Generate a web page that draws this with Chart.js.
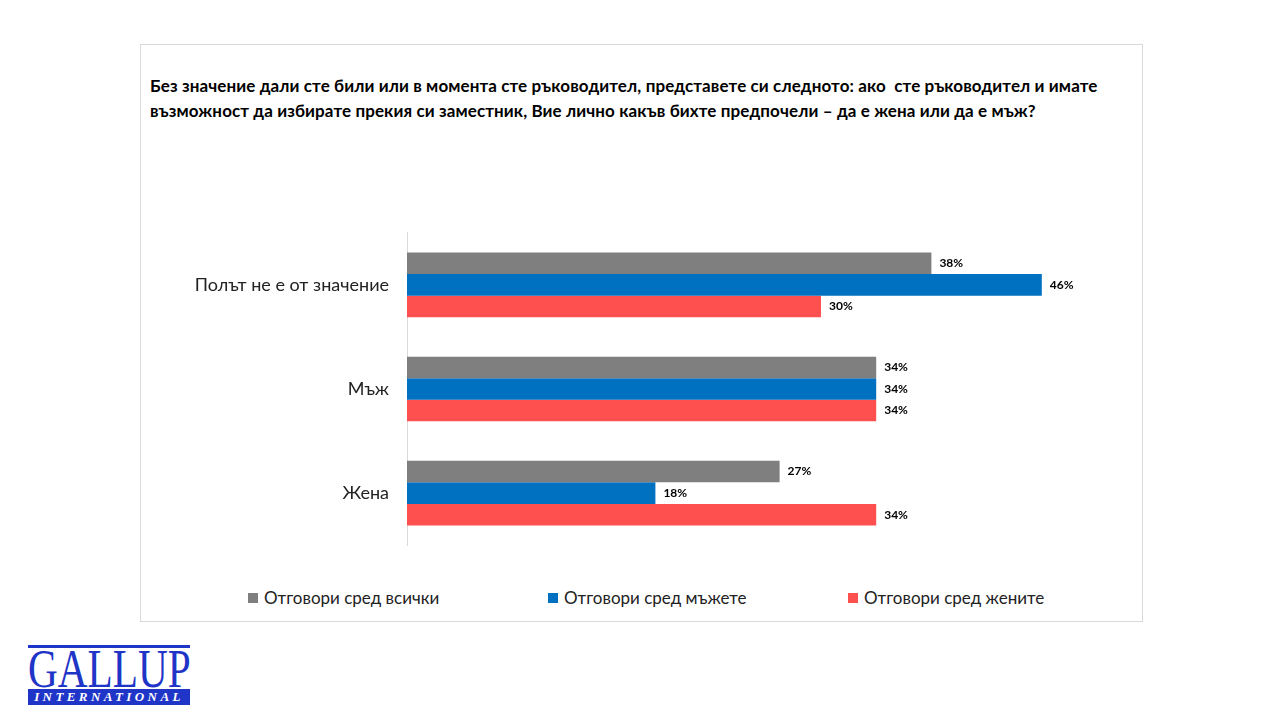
<!DOCTYPE html>
<html>
<head>
<meta charset="utf-8">
<script src="https://cdn.jsdelivr.net/npm/chart.js@4.4.0/dist/chart.umd.min.js"></script>
<style>
  body { margin:0; background:#fff; width:1280px; height:720px; overflow:hidden; position:relative; font-family: Lato, "Open Sans", sans-serif; }
  #box { position:absolute; left:140px; top:44px; width:1001px; height:576px; border:1px solid #d9d9d9; }
  #title { position:absolute; left:150px; top:73px; font-weight:bold; font-size:17px; letter-spacing:0.1px; line-height:25px; color:#000; white-space:nowrap; }
  #wrap { position:absolute; left:140px; top:204px; width:1002px; height:370px; }
  #legend { position:absolute; left:248px; top:587px; display:flex; font-size:17px; color:#222; }
  #legend div { width:300px; display:flex; align-items:center; }
  #legend span.sw { display:inline-block; width:10px; height:10px; margin-right:6px; }
  #logo { position:absolute; left:28px; top:645px; width:162px; }
  #logo .bar { height:3px; background:#1f35c8; }
  #logo .g { font-family:"Liberation Serif", serif; color:#1f35c8; font-size:55px; line-height:40px; height:40px; transform-origin:left top; transform:scaleX(0.75); white-space:nowrap; margin-top:1px; }
  #logo .intl { background:#1f35c8; color:#fff; font-family:"Liberation Serif", serif; font-style:italic; font-weight:bold; font-size:13px; letter-spacing:3.4px; height:16px; line-height:16px; text-align:center; }
</style>
</head>
<body>
<div id="box"></div>
<div id="title">Без значение дали сте били или в момента сте ръководител, представете си следното: ако&nbsp; сте ръководител и имате<br>възможност да избирате прекия си заместник, Вие лично какъв бихте предпочели – да е жена или да е мъж?</div>
<div id="wrap"><canvas id="chart"></canvas></div>
<div id="legend"></div>
<div id="logo"><div class="bar"></div><div class="g">GALLUP</div><div class="intl">INTERNATIONAL</div></div>
<script>
// данни
var categories = ["Полът не е от значение", "Мъж", "Жена"];
var seriesNames = ["Отговори сред всички", "Отговори сред мъжете", "Отговори сред жените"];
var allValues = [38, 34, 27];
var menValues = [46, 34, 18];
var womenValues = [30, 34, 34];
var colors = ["#7f7f7f", "#0070c0", "#ff5050"];

// етикети на стойностите
var valueLabels = {
    id: "valueLabels",
    afterDatasetsDraw: function(chart) {
        var ctx = chart.ctx;
        ctx.save();
        ctx.font = "bold 12px Lato, sans-serif";
        ctx.fillStyle = "#000";
        ctx.textBaseline = "middle";
        ctx.textAlign = "left";
        chart.data.datasets.forEach(function(ds, i) {
            var meta = chart.getDatasetMeta(i);
            meta.data.forEach(function(bar, j) {
                ctx.fillText(ds.data[j] + "%", bar.x + 8, bar.y);
            });
        });
        ctx.restore();
    }
};

var ctx = document.getElementById("chart").getContext("2d");
var chart = new Chart(ctx, {
    type: "bar",
    data: {
        labels: categories,
        datasets: [
            { label: seriesNames[0], data: allValues, backgroundColor: colors[0] },
            { label: seriesNames[1], data: menValues, backgroundColor: colors[1] },
            { label: seriesNames[2], data: womenValues, backgroundColor: colors[2] }
        ]
    },
    options: {
        indexAxis: "y",
        responsive: true,
        maintainAspectRatio: false,
        animation: false,
        layout: { padding: { top: 0, bottom: 0, left: 0, right: 45 } },
        datasets: { bar: { categoryPercentage: 0.62, barPercentage: 1 } },
        plugins: { legend: { display: false }, tooltip: { enabled: false } },
        scales: {
            x: { display: false, min: 0, max: 50 },
            y: {
                grid: { display: false, drawTicks: false },
                border: { color: "#d9d9d9", width: 1 },
                ticks: { color: "#222", font: { family: "Lato", size: 18 }, padding: 18 },
                afterFit: function(scale) { scale.width = 267; }
            }
        }
    },
    plugins: [valueLabels]
});

// легенда
var legend = document.getElementById("legend");
seriesNames.forEach(function(name, i) {
    var item = document.createElement("div");
    var sw = document.createElement("span");
    sw.className = "sw";
    sw.style.background = colors[i];
    item.appendChild(sw);
    item.appendChild(document.createTextNode(name));
    legend.appendChild(item);
});
</script>
</body>
</html>
